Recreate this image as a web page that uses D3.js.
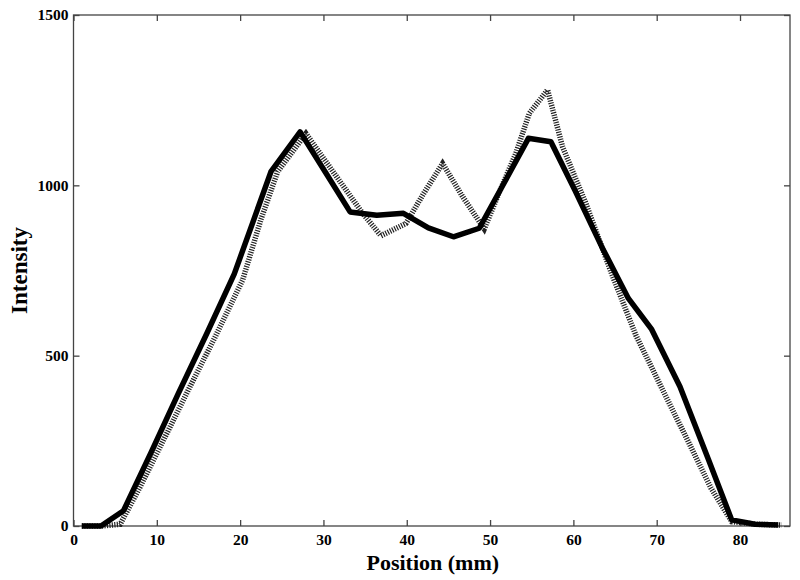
<!DOCTYPE html>
<html>
<head>
<meta charset="utf-8">
<script src="https://cdn.jsdelivr.net/npm/d3@7"></script>
<style>
  body { margin: 0; background: #fff; }
  text { font-family: "Liberation Serif", "DejaVu Serif", serif; font-weight: bold; fill: #000; }
</style>
</head>
<body>
<div id="chart"></div>
<script>
// solid profile
const solidX = [1, 3.3, 6, 9.3, 12.6, 16, 19.3, 21.5, 23.7, 27.2, 30.2, 33.2, 36.4, 39.6, 42.6, 45.6, 48.7, 51.8, 54.6, 57.3, 60.2, 63.4, 66.6, 69.4, 72.8, 76.2, 79, 81.8, 84.6];
const solidY = [0, 0, 45, 215, 390, 565, 740, 890, 1040, 1157, 1040, 922, 912, 918, 875, 849, 874, 1012, 1138, 1128, 985, 820, 668, 577, 409, 196, 18, 5, 3];

// dotted profile
const dotX = [1, 3.3, 5.6, 8, 11, 14, 17, 20.3, 22.5, 24.5, 27.9, 31.3, 34.7, 36.9, 39.9, 42, 44.3, 46.7, 49.3, 51.2, 53.1, 54.7, 56.9, 58.7, 61.5, 64.6, 67.5, 70.5, 73.5, 76.5, 79, 82, 85];
const dotY = [0, 0, 5, 115, 262, 410, 555, 722, 900, 1040, 1152, 1035, 918, 852, 888, 975, 1064, 967, 872, 985, 1094, 1211, 1280, 1113, 947, 740, 560, 410, 262, 112, 13, 5, 3];

const xTicks = [0, 10, 20, 30, 40, 50, 60, 70, 80];
const yTicks = [0, 500, 1000, 1500];

const width = 800, height = 580;
const margin = {left: 73.5, right: 10, top: 15, bottom: 54};

const svg = d3.select("#chart").append("svg")
    .attr("width", width)
    .attr("height", height);

const x = d3.scaleLinear().domain([0, 86]).range([margin.left, width - margin.right]);
const y = d3.scaleLinear().domain([0, 1500]).range([height - margin.bottom, margin.top]);

const axisColor = "#444";

// frame
svg.append("rect")
    .attr("x", x(0)).attr("y", y(1500))
    .attr("width", x(86) - x(0)).attr("height", y(0) - y(1500))
    .attr("fill", "none").attr("stroke", axisColor).attr("stroke-width", 1.3);

// axes with inward ticks
function styleAxis(g) {
    g.select(".domain").remove();
    g.selectAll(".tick line").attr("stroke", axisColor).attr("stroke-width", 1.3);
    g.selectAll(".tick text").attr("font-size", 15.5).attr("font-family", null);
}

svg.append("g")
    .attr("transform", `translate(0,${y(0)})`)
    .call(d3.axisBottom(x).tickValues(xTicks).tickSize(-6).tickPadding(8))
    .call(styleAxis);

svg.append("g")
    .attr("transform", `translate(0,${y(1500)})`)
    .call(d3.axisTop(x).tickValues(xTicks).tickSize(-6).tickFormat(""))
    .call(styleAxis);

svg.append("g")
    .attr("transform", `translate(${x(0)},0)`)
    .call(d3.axisLeft(y).tickValues(yTicks).tickSize(-6).tickPadding(5).tickFormat(d3.format("d")))
    .call(styleAxis);

svg.append("g")
    .attr("transform", `translate(${x(86)},0)`)
    .call(d3.axisRight(y).tickValues(yTicks).tickSize(-6).tickFormat(""))
    .call(styleAxis);

// lines
const line = d3.line().x(d => x(d[0])).y(d => y(d[1]));

svg.append("path")
    .datum(d3.zip(dotX, dotY))
    .attr("fill", "none")
    .attr("stroke", "#222")
    .attr("stroke-width", 5.5)
    .attr("stroke-dasharray", "1.2,1.3")
    .attr("d", line);

svg.append("path")
    .datum(d3.zip(solidX, solidY))
    .attr("fill", "none")
    .attr("stroke", "#000")
    .attr("stroke-width", 5.5)
    .attr("stroke-linejoin", "round")
    .attr("d", line);

// labels
svg.append("text")
    .attr("x", (x(0) + x(86)) / 2 + 1)
    .attr("y", 570)
    .attr("text-anchor", "middle")
    .attr("font-size", 22)
    .text("Position (mm)");

svg.append("text")
    .attr("transform", `translate(27,${(y(0) + y(1500)) / 2}) rotate(-90)`)
    .attr("text-anchor", "middle")
    .attr("font-size", 23)
    .text("Intensity");
</script>
</body>
</html>
